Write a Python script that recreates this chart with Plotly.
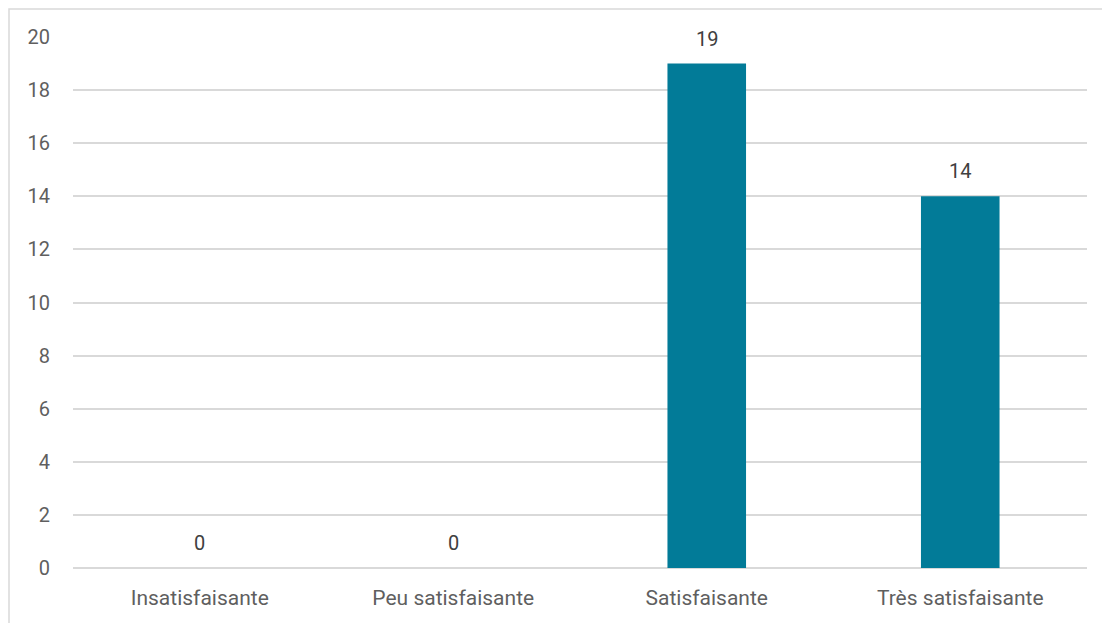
import plotly.graph_objects as go

categories = ["Insatisfaisante", "Peu satisfaisante", "Satisfaisante", "Très satisfaisante"]
values = [0, 0, 19, 14]
y_ticks = [0, 2, 4, 6, 8, 10, 12, 14, 16, 18, 20]

# page body has an 8px offset; compensate
OFF = 8
W, H = 1110 - OFF, 623 - OFF
L, T = 73 - OFF, 37 - OFF
R = W - (1087 - OFF)
B = H - (568 - OFF)
pw, ph = W - L - R, H - T - B

def px_x(px):
    return (px - OFF - L) / pw

def px_y(py):
    return (H - B - (py - OFF)) / ph

FONT = "Roboto"
fig = go.Figure(go.Bar(
    x=categories, y=values,
    marker=dict(color="#027B98", line=dict(width=0)),
    hoverinfo="x+y",
))

for c, v in zip(categories, values):
    fig.add_annotation(x=c, y=v, text=str(v), showarrow=False, yshift=25,
                       yanchor="middle", font=dict(size=20, color="#404040", family=FONT))

fig.update_layout(
    width=W, height=H,
    margin=dict(l=L, r=R, t=T, b=B, pad=0),
    paper_bgcolor="white", plot_bgcolor="white",
    bargap=0.69,
    showlegend=False,
    font=dict(family=FONT, size=21, color="#595959"),
    xaxis=dict(showgrid=False, showline=False, ticks="", tickfont=dict(size=21, color="#5f5f5f"),
               ticklabelstandoff=15),
    yaxis=dict(range=[0, 20], tickvals=y_ticks, showgrid=True, gridcolor="#d9d9d9", gridwidth=1.5,
               zeroline=True, zerolinecolor="#d9d9d9", zerolinewidth=1.5,
               showline=False, ticks="", tickfont=dict(size=20, color="#5f5f5f"),
               ticklabelstandoff=22),
    shapes=[dict(type="rect", xref="paper", yref="paper",
                 x0=px_x(9), x1=px_x(1120), y0=px_y(640), y1=px_y(9),
                 line=dict(color="#d9d9d9", width=1.5), fillcolor="rgba(0,0,0,0)", layer="below")],
)

fig.write_html("out.html")
